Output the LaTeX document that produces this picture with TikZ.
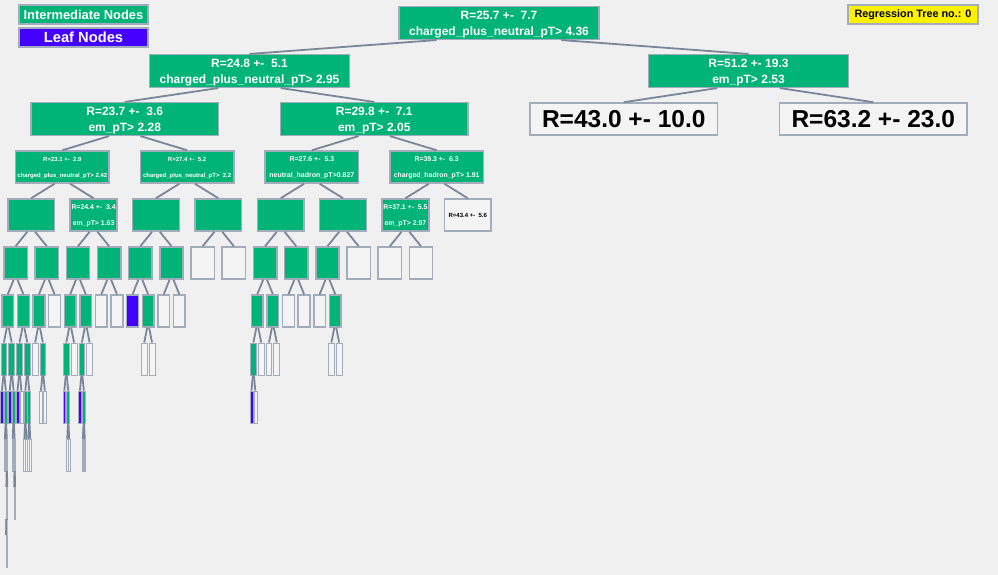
\documentclass[tikz,border=0pt]{standalone}
\usepackage{fontspec}
\setmainfont{Liberation Sans}
\usetikzlibrary{calc}

\definecolor{bgcol}{HTML}{F0F0F0}
\definecolor{intercol}{HTML}{00B377}
\definecolor{leafcol}{HTML}{4400FF}
\definecolor{boxline}{HTML}{A2ACBA}
\definecolor{edgecol}{HTML}{7A869A}
\definecolor{plaincol}{HTML}{F4F4F4}

\tikzset{
  box/.style={draw=boxline, line width=1.5pt, inner sep=0pt, align=center},
  inode/.style={box, fill=intercol, text=white},
  lnode/.style={box, fill=leafcol, text=white},
  wnode/.style={box, fill=plaincol, text=black},
  edge/.style={draw=edgecol, line width=1.8pt},
  fsize/.style={font=\fontsize{#1}{16}\selectfont\bfseries},
}

% struts so that the lines sit at the same height in every box
\newcommand{\topstrut}{\rule{0pt}{\dimexpr 4pt+0.716em\relax}}
\newcommand{\botstrut}{\rule[-4pt]{0pt}{4pt}}

% level, index, style, text
\newcommand{\tnode}[4]{%
  \pgfmathsetmacro{\tslot}{998/2^(#1-1)}%
  \pgfmathsetmacro{\nx}{\tslot*(#2+0.5)}%
  \pgfmathsetmacro{\bw}{min(200,0.75*\tslot)}%
  \pgfmathsetmacro{\blw}{min(1.5,0.1*\bw+0.3)}%
  \pgfmathsetmacro{\ny}{23+48*(#1-1)}%
  \node[#3, line width=\blw pt, minimum width=\bw pt, minimum height=32pt] (n#1-#2) at (\nx,\ny) {\topstrut#4\botstrut};%
  \ifnum#1>1
    \pgfmathtruncatemacro{\plev}{#1-1}%
    \pgfmathtruncatemacro{\pidx}{floor(#2/2)}%
    \pgfmathsetmacro{\eoff}{(2*mod(#2,2)-1)*\tslot/8}%
    \draw[edge] ($(n\plev-\pidx.south)+(\eoff,0)$) -- (n#1-#2.north);%
  \fi
}

\begin{document}
\begin{tikzpicture}[x=1pt, y=-1pt]
  \fill[bgcol] (0,0) rectangle (998,575);
  \useasboundingbox (0,0) rectangle (998,575);

  % legend
  \node[inode, minimum width=129pt, minimum height=19pt, fsize=12.9] (legint) at (83.5,14.5) {Intermediate Nodes};
  \node[lnode, minimum width=129pt, minimum height=19pt, fsize=14.7] (legleaf) at (83.5,37.5) {Leaf Nodes};
  \node[box, fill=yellow, text=black, minimum width=130pt, minimum height=19pt, fsize=10.8] (treeno) at (913,14.5) {Regression Tree no.: 0};

  % upper levels
  \tnode{1}{0}{inode, fsize=12}{R=25.7 +-\ \ 7.7\\charged\_plus\_neutral\_pT> 4.36}
  \tnode{2}{0}{inode, fsize=12}{R=24.8 +-\ \ 5.1\\charged\_plus\_neutral\_pT> 2.95}
  \tnode{2}{1}{inode, fsize=12}{R=51.2 +- 19.3\\em\_pT> 2.53}
  \tnode{3}{0}{inode, fsize=12}{R=23.7 +-\ \ 3.6\\em\_pT> 2.28}
  \tnode{3}{1}{inode, fsize=12}{R=29.8 +-\ \ 7.1\\em\_pT> 2.05}
  \tnode{3}{2}{wnode, fsize=24.5}{R=43.0 +- 10.0}
  \tnode{3}{3}{wnode, fsize=24.5}{R=63.2 +- 23.0}
  \tnode{4}{0}{inode, fsize=6}{R=23.1 +-\ \ 2.9\\charged\_plus\_neutral\_pT> 2.42}
  \tnode{4}{1}{inode, fsize=6}{R=27.4 +-\ \ 5.2\\charged\_plus\_neutral\_pT>\ \ 2.2}
  \tnode{4}{2}{inode, fsize=7}{R=27.6 +-\ \ 5.3\\neutral\_hadron\_pT>0.827}
  \tnode{4}{3}{inode, fsize=6.9}{R=39.3 +-\ \ 6.3\\charged\_hadron\_pT> 1.91}
  \tnode{5}{0}{inode}{}
  \tnode{5}{1}{inode, fsize=6.9}{R=24.4 +-\ \ 3.4\\em\_pT> 1.63}
  \foreach \k in {2,3,4,5} {\tnode{5}{\k}{inode}{}}
  \tnode{5}{6}{inode, fsize=6.9}{R=37.1 +-\ \ 5.5\\em\_pT> 2.97}
  \tnode{5}{7}{wnode, fsize=6}{R=43.4 +-\ \ 5.6}

  % lower levels
  \foreach \k/\s in {0/inode,1/inode,2/inode,3/inode,4/inode,5/inode,6/wnode,7/wnode,
      8/inode,9/inode,10/inode,11/wnode,12/wnode,13/wnode}
    {\tnode{6}{\k}{\s}{}}
  \foreach \k/\s in {0/inode,1/inode,2/inode,3/wnode,4/inode,5/inode,6/wnode,7/wnode,
      8/lnode,9/inode,10/wnode,11/wnode,16/inode,17/inode,18/wnode,19/wnode,20/wnode,21/inode}
    {\tnode{7}{\k}{\s}{}}
  \foreach \k/\s in {0/inode,1/inode,2/inode,3/inode,4/wnode,5/inode,8/inode,9/wnode,
      10/inode,11/wnode,18/wnode,19/wnode,32/inode,33/wnode,34/wnode,35/wnode,42/wnode,43/wnode}
    {\tnode{8}{\k}{\s}{}}
  \foreach \k/\s in {0/lnode,1/inode,2/lnode,3/inode,4/lnode,5/wnode,6/inode,7/inode,
      10/wnode,11/wnode,16/lnode,17/inode,20/lnode,21/inode,64/lnode,65/wnode}
    {\tnode{9}{\k}{\s}{}}
  \foreach \k/\s in {2/lnode,3/inode,6/wnode,7/inode,12/wnode,13/wnode,14/wnode,15/wnode,
      34/wnode,35/wnode,42/wnode,43/wnode}
    {\tnode{10}{\k}{\s}{}}
  \foreach \k/\s in {6/inode,7/wnode,14/wnode,15/wnode}
    {\tnode{11}{\k}{\s}{}}
  \foreach \k/\s in {12/wnode,13/wnode}
    {\tnode{12}{\k}{\s}{}}
\end{tikzpicture}
\end{document}
